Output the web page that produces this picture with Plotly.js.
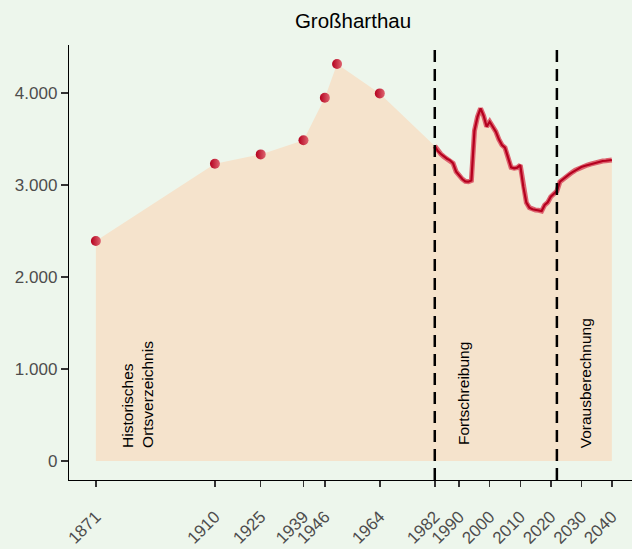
<!DOCTYPE html>
<html>
<head>
<meta charset="utf-8">
<script src="https://cdn.plot.ly/plotly-3.0.1.min.js"></script>
<style>
  html, body { margin: 0; padding: 0; background: #edf6ec; }
  #chart { width: 632px; height: 549px; }
</style>
</head>
<body>
<div id="chart"></div>
<script>
// Historical census points (Historisches Ortsverzeichnis)
const histYears = [1871, 1910, 1925, 1939, 1946, 1950, 1964];
const histPop   = [2391, 3232, 3333, 3486, 3949, 4315, 3996];

// Annual estimates (Fortschreibung)
const fortYears = [1982, 1983, 1984, 1985, 1986, 1987, 1988, 1989, 1990, 1991,
                   1992, 1993, 1994, 1995, 1996, 1997, 1998, 1999, 2000, 2001,
                   2002, 2003, 2004, 2005, 2006, 2007, 2008, 2009, 2010, 2011,
                   2012, 2013, 2014, 2015, 2016, 2017, 2018, 2019, 2020, 2021, 2022];
const fortPop   = [3424, 3370, 3337, 3308, 3286, 3268, 3236, 3145, 3101, 3065,
                   3040, 3036, 3050, 3590, 3742, 3833, 3753, 3634, 3688, 3641,
                   3580, 3496, 3435, 3406, 3290, 3192, 3182, 3189, 3217, 2982,
                   2808, 2754, 2736, 2728, 2725, 2717, 2783, 2812, 2873, 2902, 2935];

// Projection (Vorausberechnung)
const projYears = [2023, 2024, 2025, 2026, 2027, 2028, 2029, 2030, 2031, 2032,
                   2033, 2034, 2035, 2036, 2037, 2038, 2039, 2040];
const projPop   = [3036, 3065, 3091, 3116, 3138, 3160, 3178, 3196, 3207, 3217,
                   3228, 3239, 3246, 3254, 3261, 3264, 3268, 3272];

const tickYears = [1871, 1910, 1925, 1939, 1946, 1964, 1982, 1990, 2000, 2010, 2020, 2030, 2040];
const phaseBreaks = [1982, 2022];

const phaseLabels = ["Historisches<br>Ortsverzeichnis", "Fortschreibung", "Vorausberechnung"];
const phaseLabelX = [1884.6, 1991.5, 2031.4];
const phaseLabelY = [120, 155, 112];

const lineYears = fortYears.concat(projYears);
const linePop = fortPop.concat(projPop);
const allYears = histYears.concat(lineYears);
const allPop = histPop.concat(linePop);

const FONT = "Liberation Sans, Arial, Helvetica, sans-serif";
const DARK = "#b5001e";
const LIGHT = "#dd6470";

const traces = [
  {
    x: allYears, y: allPop, type: "scatter", mode: "none",
    fill: "tozeroy", fillcolor: "#f5e3cc", hoverinfo: "skip"
  },
  {
    x: lineYears, y: linePop, type: "scatter", mode: "lines",
    line: { color: LIGHT, width: 5 }, hoverinfo: "skip"
  },
  {
    x: lineYears, y: linePop, type: "scatter", mode: "lines",
    line: { color: DARK, width: 2.2 }
  },
  {
    x: histYears, y: histPop, type: "scatter", mode: "markers",
    marker: { color: DARK, size: 10, line: { width: 0 },
              gradient: { type: "horizontal", color: LIGHT } }
  }
];

const shapes = phaseBreaks.map(yr => ({
  type: "line", xref: "x", yref: "paper", x0: yr, x1: yr, y0: 0, y1: 1,
  line: { color: "#000000", width: 2.5, dash: "12px,7px" }
}));

const annotations = phaseLabels.map((t, i) => ({
  text: t, x: phaseLabelX[i], y: phaseLabelY[i], xref: "x", yref: "y",
  textangle: -90, xanchor: "center", yanchor: "bottom", align: "left",
  showarrow: false, font: { family: FONT, size: 15.5, color: "#000000" }
}));

const layout = {
  width: 632, height: 549,
  margin: { l: 69, r: 0, t: 45, b: 69 },
  paper_bgcolor: "#edf6ec", plot_bgcolor: "#edf6ec",
  separators: ",.",
  showlegend: false,
  title: { text: "Großharthau", x: 353 / 632, xanchor: "center", y: 1 - 21 / 549, yanchor: "middle",
           font: { family: FONT, size: 20.5, color: "#000000" } },
  xaxis: {
    range: [1862.2, 2046.6], showgrid: false, zeroline: false,
    showline: true, linecolor: "#000000", linewidth: 1.2,
    tickmode: "array", tickvals: tickYears, ticktext: tickYears.map(String),
    ticks: "outside", ticklen: 6, tickwidth: 1.5, tickcolor: "#333333",
    tickangle: -45, ticklabelstandoff: 13,
    tickfont: { family: FONT, size: 17, color: "#4d4d4d" }
  },
  yaxis: {
    range: [-206, 4522], showgrid: false, zeroline: false,
    showline: true, linecolor: "#000000", linewidth: 1.2,
    tickmode: "array", tickvals: [0, 1000, 2000, 3000, 4000],
    tickformat: ",d",
    ticks: "outside", ticklen: 7, tickwidth: 1.5, tickcolor: "#333333",
    tickfont: { family: FONT, size: 17, color: "#4d4d4d" }
  },
  shapes: shapes,
  annotations: annotations
};

Plotly.newPlot("chart", traces, layout, { displayModeBar: false, staticPlot: true });
</script>
</body>
</html>
